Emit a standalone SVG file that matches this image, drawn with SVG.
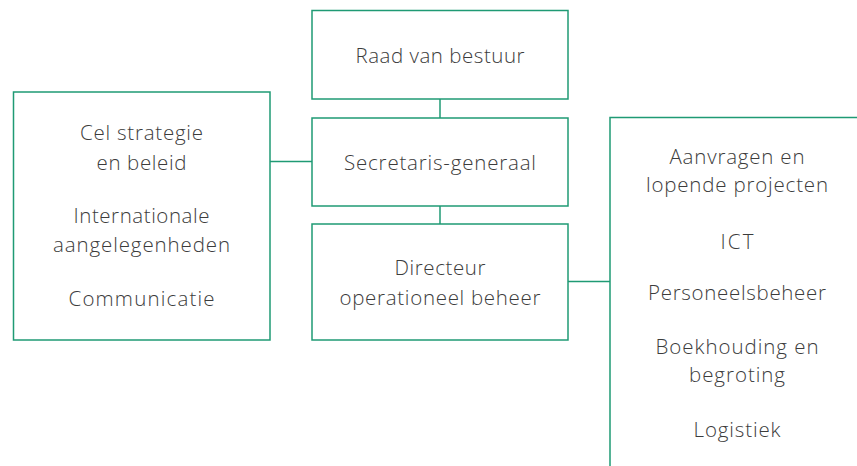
<svg xmlns="http://www.w3.org/2000/svg" width="857" height="466" viewBox="0 0 857 466">
<style>
.box{fill:#fff;stroke:#1f9a74;stroke-width:1.5}
.ln{stroke:#1f9a74;stroke-width:1.5;fill:none}
text{font-family:"Open Sans",Lato,sans-serif;font-size:20.5px;font-weight:300;fill:#3c3c3c;text-anchor:middle}
</style>
<rect width="857" height="466" fill="#fff"/>
<g id="connectors">
<line class="ln" x1="440" y1="99" x2="440" y2="118"/>
<line class="ln" x1="440" y1="206" x2="440" y2="224"/>
<line class="ln" x1="270" y1="161.5" x2="312" y2="161.5"/>
<line class="ln" x1="568" y1="281.5" x2="610" y2="281.5"/>
</g>
<g id="raad">
<rect class="box" x="312" y="10.5" width="256" height="88.5"/>
<text x="440" y="63" textLength="169" lengthAdjust="spacing">Raad van bestuur</text>
</g>
<g id="secretaris">
<rect class="box" x="312" y="118" width="256" height="88"/>
<text x="440" y="169.5" textLength="192" lengthAdjust="spacing">Secretaris-generaal</text>
</g>
<g id="directeur">
<rect class="box" x="312" y="224" width="256" height="116"/>
<text x="440" y="275" textLength="91" lengthAdjust="spacing">Directeur</text>
<text x="440" y="304.5" textLength="201" lengthAdjust="spacing">operationeel beheer</text>
</g>
<g id="staf">
<rect class="box" x="13.5" y="92" width="256.5" height="248"/>
<text x="141.5" y="140" textLength="123" lengthAdjust="spacing">Cel strategie</text>
<text x="141.5" y="169.5" textLength="90" lengthAdjust="spacing">en beleid</text>
<text x="141.5" y="223" textLength="136" lengthAdjust="spacing">Internationale</text>
<text x="141.5" y="251.5" textLength="177" lengthAdjust="spacing">aangelegenheden</text>
<text x="141.5" y="306" textLength="146" lengthAdjust="spacing">Communicatie</text>
</g>
<g id="diensten">
<path class="ln" d="M610,466 V117.5 H857"/>
<text x="737" y="163.5" textLength="135" lengthAdjust="spacing">Aanvragen en</text>
<text x="737" y="191.5" textLength="182" lengthAdjust="spacing">lopende projecten</text>
<text x="737" y="248.5" textLength="33" lengthAdjust="spacing">ICT</text>
<text x="737" y="300" textLength="178" lengthAdjust="spacing">Personeelsbeheer</text>
<text x="737" y="354" textLength="163" lengthAdjust="spacing">Boekhouding en</text>
<text x="737" y="382" textLength="96" lengthAdjust="spacing">begroting</text>
<text x="737" y="436.5" textLength="87" lengthAdjust="spacing">Logistiek</text>
</g>
</svg>
